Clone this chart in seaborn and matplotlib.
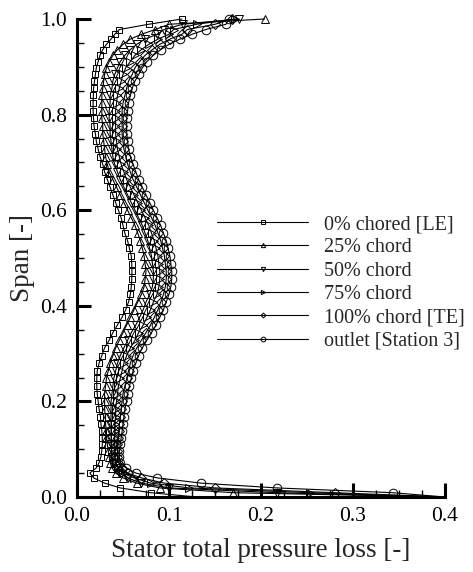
import matplotlib
matplotlib.use("Agg")
import matplotlib.pyplot as plt
from matplotlib.ticker import MultipleLocator, FormatStrFormatter
import seaborn as sns

# Spanwise stations (hub = 0, casing = 1)
span = [0.000, 0.009, 0.019, 0.029, 0.040, 0.050, 0.061, 0.072, 0.084, 0.097,
        0.110, 0.124, 0.138, 0.153, 0.168, 0.184, 0.200, 0.216, 0.232, 0.248,
        0.264, 0.280, 0.296, 0.312, 0.328, 0.344, 0.360, 0.376, 0.392, 0.408,
        0.424, 0.440, 0.456, 0.472, 0.488, 0.504, 0.520, 0.536, 0.552, 0.568,
        0.584, 0.600, 0.616, 0.632, 0.648, 0.664, 0.680, 0.696, 0.712, 0.728,
        0.744, 0.760, 0.776, 0.792, 0.808, 0.824, 0.840, 0.855, 0.870, 0.884,
        0.898, 0.911, 0.924, 0.936, 0.947, 0.958, 0.968, 0.978, 0.989, 1.000]

loss_le = [0.130, 0.080, 0.047, 0.030, 0.018, 0.014, 0.021, 0.024, 0.026, 0.027,
           0.0275, 0.0275, 0.027, 0.026, 0.0255, 0.024, 0.023, 0.022, 0.0215, 0.0215,
           0.022, 0.024, 0.027, 0.030, 0.035, 0.039, 0.044, 0.049, 0.053, 0.056,
           0.058, 0.059, 0.0595, 0.0597, 0.0595, 0.059, 0.057, 0.055, 0.052, 0.050,
           0.048, 0.045, 0.042, 0.039, 0.036, 0.033, 0.030, 0.028, 0.025, 0.023,
           0.021, 0.020, 0.0185, 0.018, 0.0175, 0.0175, 0.0178, 0.018, 0.019, 0.020,
           0.021, 0.023, 0.025, 0.028, 0.032, 0.037, 0.041, 0.046, 0.078, 0.114]

loss_25 = [0.400, 0.170, 0.090, 0.065, 0.050, 0.042, 0.038, 0.036, 0.035, 0.034,
           0.033, 0.032, 0.032, 0.031, 0.031, 0.030, 0.030, 0.030, 0.031, 0.032,
           0.034, 0.036, 0.039, 0.042, 0.046, 0.050, 0.054, 0.058, 0.062, 0.066,
           0.070, 0.073, 0.074, 0.075, 0.074, 0.073, 0.071, 0.069, 0.066, 0.063,
           0.059, 0.055, 0.051, 0.047, 0.043, 0.039, 0.035, 0.033, 0.031, 0.030,
           0.029, 0.028, 0.028, 0.027, 0.027, 0.027, 0.027, 0.028, 0.029, 0.030,
           0.032, 0.035, 0.039, 0.044, 0.050, 0.058, 0.070, 0.085, 0.100, 0.204]

loss_50 = [0.400, 0.217, 0.100, 0.070, 0.055, 0.046, 0.042, 0.039, 0.038, 0.038,
           0.037, 0.037, 0.037, 0.037, 0.037, 0.037, 0.037, 0.038, 0.039, 0.040,
           0.042, 0.044, 0.047, 0.051, 0.055, 0.059, 0.064, 0.068, 0.072, 0.075,
           0.079, 0.082, 0.083, 0.083, 0.082, 0.081, 0.079, 0.077, 0.074, 0.071,
           0.067, 0.063, 0.059, 0.055, 0.051, 0.047, 0.044, 0.041, 0.039, 0.038,
           0.037, 0.036, 0.036, 0.035, 0.035, 0.036, 0.036, 0.038, 0.039, 0.041,
           0.044, 0.047, 0.052, 0.058, 0.065, 0.074, 0.087, 0.095, 0.115, 0.176]

loss_75 = [0.400, 0.253, 0.122, 0.080, 0.062, 0.050, 0.045, 0.042, 0.041, 0.041,
           0.041, 0.041, 0.041, 0.041, 0.042, 0.042, 0.043, 0.044, 0.045, 0.047,
           0.049, 0.051, 0.054, 0.058, 0.063, 0.067, 0.072, 0.076, 0.080, 0.083,
           0.087, 0.089, 0.090, 0.090, 0.089, 0.088, 0.086, 0.084, 0.081, 0.078,
           0.074, 0.070, 0.066, 0.062, 0.058, 0.054, 0.051, 0.048, 0.046, 0.044,
           0.043, 0.042, 0.042, 0.042, 0.042, 0.043, 0.044, 0.046, 0.048, 0.050,
           0.053, 0.058, 0.063, 0.070, 0.078, 0.088, 0.100, 0.105, 0.130, 0.172]

loss_100 = [0.400, 0.280, 0.150, 0.095, 0.070, 0.055, 0.049, 0.045, 0.044, 0.044,
            0.044, 0.045, 0.046, 0.046, 0.047, 0.048, 0.049, 0.050, 0.052, 0.054,
            0.056, 0.058, 0.061, 0.065, 0.070, 0.075, 0.080, 0.084, 0.088, 0.091,
            0.094, 0.096, 0.097, 0.097, 0.096, 0.095, 0.093, 0.091, 0.088, 0.085,
            0.081, 0.077, 0.073, 0.069, 0.065, 0.061, 0.058, 0.055, 0.053, 0.051,
            0.050, 0.049, 0.049, 0.049, 0.049, 0.050, 0.052, 0.054, 0.056, 0.060,
            0.063, 0.068, 0.074, 0.082, 0.090, 0.101, 0.114, 0.120, 0.150, 0.168]

loss_outlet = [0.400, 0.343, 0.217, 0.135, 0.087, 0.064, 0.053, 0.047, 0.046, 0.046,
               0.047, 0.048, 0.049, 0.050, 0.051, 0.052, 0.054, 0.055, 0.057, 0.059,
               0.061, 0.064, 0.067, 0.071, 0.076, 0.081, 0.086, 0.090, 0.094, 0.097,
               0.100, 0.102, 0.103, 0.103, 0.102, 0.101, 0.099, 0.097, 0.094, 0.091,
               0.087, 0.083, 0.079, 0.075, 0.071, 0.067, 0.064, 0.061, 0.058, 0.056,
               0.055, 0.054, 0.054, 0.054, 0.055, 0.056, 0.058, 0.060, 0.063, 0.067,
               0.071, 0.076, 0.083, 0.091, 0.100, 0.112, 0.125, 0.140, 0.162, 0.165]

labels = ["0% chored [LE]", "25% chord", "50% chord", "75% chord",
          "100% chord [TE]", "outlet [Station 3]"]
series = [loss_le, loss_25, loss_50, loss_75, loss_100, loss_outlet]
markers = ["s", "^", "v", ">", "D", "o"]
marker_sizes = [5.0, 5.6, 5.6, 5.6, 4.6, 6.2]

sns.set_style("ticks")
plt.rcParams["font.family"] = ["Liberation Serif", "DejaVu Serif"]

fig = plt.figure(figsize=(4.73, 5.72), dpi=100)
ax = fig.add_axes([77 / 473, 75 / 572, 368 / 473, 478 / 572])

for vals, lab, mk, ms in zip(series, labels, markers, marker_sizes):
    sns.lineplot(x=vals, y=span, ax=ax, sort=False, estimator=None,
                 color="black", linewidth=0.8, marker=mk, markersize=ms,
                 markerfacecolor="none", markeredgecolor="black",
                 markeredgewidth=0.7, markevery=list(range(1, len(span))),
                 label=lab, clip_on=False)

ax.set_xlim(0.0, 0.4)
ax.set_ylim(0.0, 1.0)

ax.xaxis.set_major_locator(MultipleLocator(0.1))
ax.xaxis.set_minor_locator(MultipleLocator(0.025))
ax.yaxis.set_major_locator(MultipleLocator(0.2))
ax.yaxis.set_minor_locator(MultipleLocator(0.05))
ax.xaxis.set_major_formatter(FormatStrFormatter("%.1f"))
ax.yaxis.set_major_formatter(FormatStrFormatter("%.1f"))

for side in ("top", "right"):
    ax.spines[side].set_visible(False)
for side in ("left", "bottom"):
    ax.spines[side].set_linewidth(2.2)
    ax.spines[side].set_color("black")

ax.tick_params(which="major", direction="in", length=10, width=2.2,
               labelsize=15.5, pad=7, colors="black")
ax.tick_params(which="minor", direction="in", length=5, width=1.0,
               colors="black")

ax.set_xlabel("Stator total pressure loss [-]", fontsize=19.5, labelpad=9)
ax.set_ylabel("Span [-]", fontsize=19.5, labelpad=4)

ax.legend(loc="upper left", bbox_to_anchor=(0.38, 0.590), frameon=False,
          fontsize=14.5, handlelength=4.55, handletextpad=0.75,
          labelspacing=0.21, borderpad=0, borderaxespad=0, markerscale=0.55)

fig.savefig("out.png", dpi=100)
